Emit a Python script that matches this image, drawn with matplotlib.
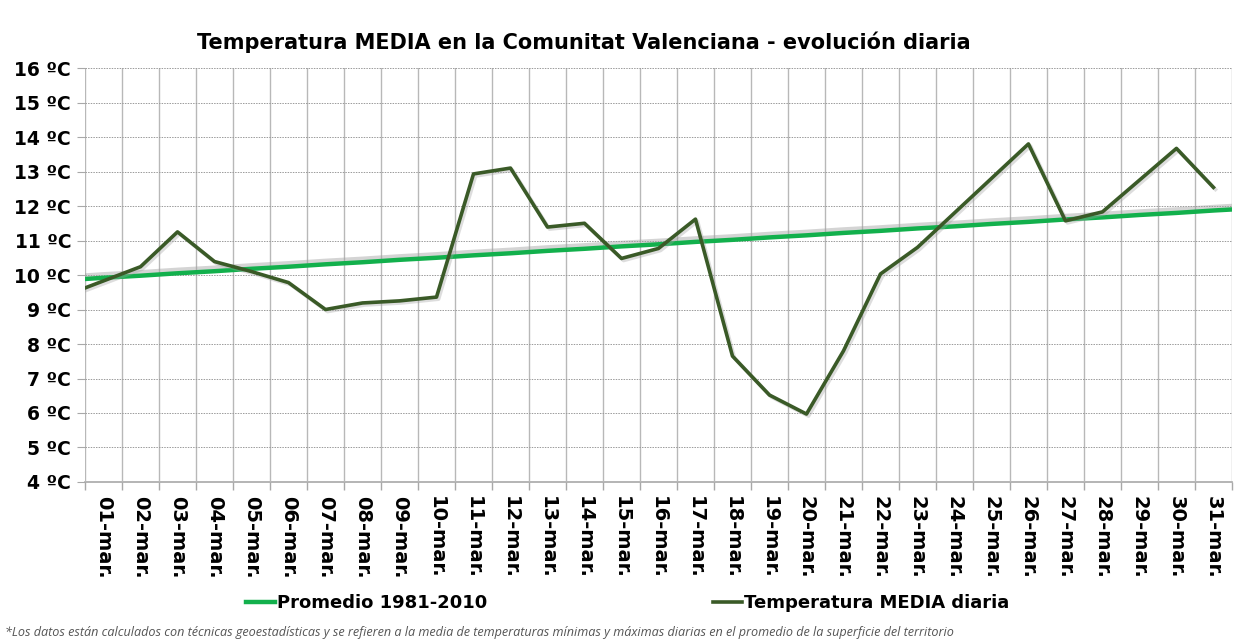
import matplotlib
matplotlib.use("Agg")
import matplotlib.pyplot as plt
import matplotlib.patheffects as pe
from matplotlib.lines import Line2D

# day labels
dias = ["%02d-mar." % d for d in range(1, 32)]

# temperatura media diaria (ºC); el primer valor es 28-feb
temp_prev = 9.42
temp_media = [9.83, 10.24, 11.25, 10.39, 10.10, 9.78, 9.00, 9.19, 9.25, 9.36,
              12.93, 13.10, 11.39, 11.50, 10.48, 10.77, 11.62, 7.65, 6.52, 5.97,
              7.80, 10.03, 10.80, 11.80, 12.80, 13.80, 11.57, 11.83, 12.75, 13.67,
              12.54]

# promedio 1981-2010 (ºC), con 28-feb y 01-abr en los extremos
prom_prev = 9.85
promedio = [9.92, 9.98, 10.05, 10.11, 10.18, 10.24, 10.31, 10.37, 10.44, 10.50,
            10.57, 10.63, 10.70, 10.76, 10.83, 10.89, 10.96, 11.02, 11.09, 11.15,
            11.22, 11.28, 11.35, 11.41, 11.48, 11.54, 11.61, 11.67, 11.74, 11.80,
            11.87]
prom_next = 11.93

yticks = list(range(4, 17))

verde = "#12b04c"
oscuro = "#3a5a27"

fig = plt.figure(figsize=(12.43, 6.43), dpi=100)
ax = fig.add_axes([0.0684, 0.2504, 0.9227, 0.6438])

x = list(range(0, 33))
y_prom = [prom_prev] + promedio + [prom_next]
y_temp = [temp_prev] + temp_media

ax.plot(x, y_prom, color=verde, lw=3.2, solid_capstyle="butt",
        path_effects=[pe.SimpleLineShadow(offset=(0, 2.5), shadow_color="#a0a0a0", alpha=0.45),
                      pe.Normal()])
ax.plot(x[:32], y_temp, color=oscuro, lw=2.6,
        path_effects=[pe.SimpleLineShadow(offset=(1.5, -1.5), shadow_color="#a0a0a0", alpha=0.35),
                      pe.Normal()])

ax.set_xlim(0.5, 31.5)
ax.set_ylim(4, 16)

# labels at category centres, grid at category boundaries
ax.set_xticks(range(1, 32))
ax.set_xticklabels(dias, rotation=-90, fontsize=14, fontweight="bold", va="top")
ax.set_xticks([i + 0.5 for i in range(0, 32)], minor=True)
ax.tick_params(axis="x", which="major", length=0, pad=10)
ax.tick_params(axis="x", which="minor", length=6, color="#a8a8a8", width=1)
ax.grid(True, axis="x", which="minor", color="#b8b8b8", lw=1)

ax.set_yticks(yticks)
ax.set_yticklabels(["%d ºC" % v for v in yticks], fontsize=13.5, fontweight="bold")
ax.tick_params(axis="y", length=6, color="#a8a8a8", width=0.8, pad=4)
ax.grid(True, axis="y", which="major", color="#9a9a9a", lw=0.7, ls=(0, (1.5, 1.2)))
ax.set_axisbelow(True)

for s in ["top", "right", "left"]:
    ax.spines[s].set_visible(False)
ax.spines["bottom"].set_color("#a8a8a8")
ax.spines["bottom"].set_linewidth(1.2)
ax.spines["bottom"].set_zorder(0.5)

fig.text(0.470, 0.935, "Temperatura MEDIA en la Comunitat Valenciana - evolución diaria",
         ha="center", va="center", fontsize=15, fontweight="bold")

handles = [Line2D([], [], color=verde, lw=3.2), Line2D([], [], color=oscuro, lw=2.6)]
fig.legend(handles, ["Promedio 1981-2010", "Temperatura MEDIA diaria"],
           loc="center", bbox_to_anchor=(0.505, 0.062), ncol=2, frameon=False,
           prop={"size": 13, "weight": "bold"}, handlelength=1.6, handletextpad=0.1,
           columnspacing=12.5)

fig.text(0.004, 0.017,
         "*Los datos están calculados con técnicas geoestadísticas y se refieren a la media de "
         "temperaturas mínimas y máximas diarias en el promedio de la superficie del territorio",
         ha="left", va="center", fontsize=9.1, style="italic", color="#555555",
         family="Open Sans")

fig.savefig("out.png", dpi=100)
